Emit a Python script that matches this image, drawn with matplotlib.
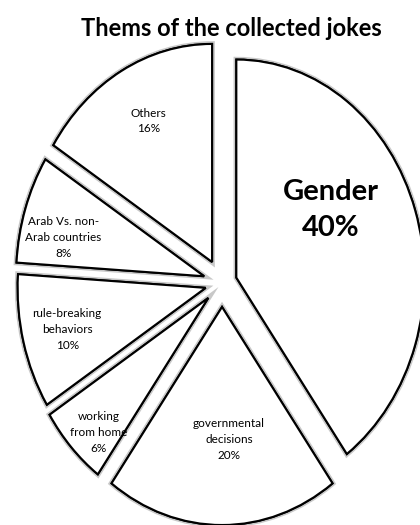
import numpy as np
import matplotlib
matplotlib.use("Agg")
import matplotlib.pyplot as plt
import matplotlib.patheffects as pe

# data, clockwise from 12 o'clock
themes = ["Gender", "governmental\ndecisions", "working\nfrom home",
          "rule-breaking\nbehaviors", "Arab Vs. non-\nArab countries", "Others"]
shares = [40, 20, 6, 10, 8, 16]

explode = [0.08, 0.11, 0.10, 0.09, 0.10, 0.11]
# label placement: radius and angle tweak (degrees) relative to slice middle
label_r = [0.67, 0.72, 0.95, 0.85, 0.87, 0.84]
label_dang = [12, 3, 3, 0, 4, -1]

plt.rcParams["font.family"] = ["Lato", "DejaVu Sans"]

fig = plt.figure(figsize=(4.2, 5.25), dpi=100)
ax = fig.add_axes([0, 0, 1, 1])

wedges, _ = ax.pie(shares, startangle=90, counterclock=False, explode=explode,
                   radius=1.0, wedgeprops=dict(facecolor="white", edgecolor="black", linewidth=1.5))
# soft grey halo like the blurred shadow in the original
for w in wedges:
    w.set_path_effects([pe.withStroke(linewidth=4, foreground="#c8c8c8"), pe.Normal()])

for i, w in enumerate(wedges):
    mid = np.deg2rad((w.theta1 + w.theta2) / 2 + label_dang[i])
    x = label_r[i] * np.cos(mid)
    y = label_r[i] * np.sin(mid)
    txt = f"{themes[i]}\n{shares[i]}%"
    if i == 0:
        ax.text(x, y, txt, ha="center", va="center", fontsize=21, fontweight="bold",
                linespacing=1.45)
    else:
        ax.text(x, y, txt, ha="center", va="center", fontsize=8.5, color="black",
                linespacing=1.55)

ax.set_aspect("auto")
ax.set_xlim(-1.181, 1.053)
ax.set_ylim(-1.110, 1.298)
ax.axis("off")

fig.text(0.552, 0.946, "Thems of the collected jokes", ha="center", va="center",
         fontsize=17, fontweight="bold")

fig.savefig("out.png", dpi=100, facecolor="white")
